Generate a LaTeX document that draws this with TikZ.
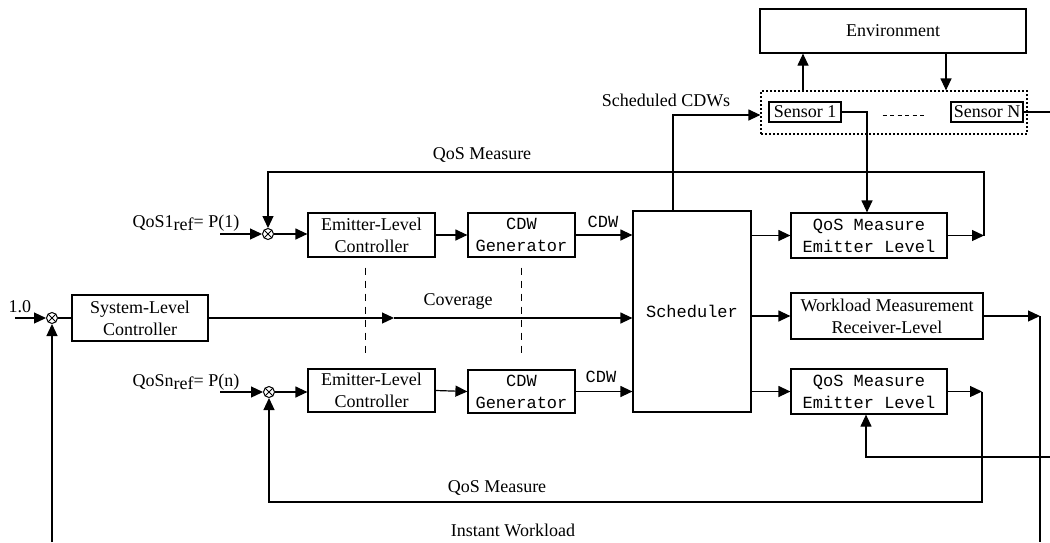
\documentclass[tikz,border=0pt]{standalone}
\usepackage{fontspec}
\setmainfont{Liberation Serif}
\setmonofont{Liberation Mono}
\usetikzlibrary{arrows.meta,calc}
\begin{document}
\begin{tikzpicture}[x=1pt,y=-1pt,line width=1.2pt,
  every node/.style={font=\fontsize{18}{22}\selectfont, inner sep=0pt},
  blk/.style={draw, align=center},
  mono/.style={font=\ttfamily\fontsize{17}{22}\selectfont},
  arr/.style={-{Triangle[length=12pt,width=11pt]}},
  sumj/.style={draw, circle, minimum size=11pt, line width=1pt,
    path picture={\draw[line width=0.8pt]
      (path picture bounding box.north west) -- (path picture bounding box.south east)
      (path picture bounding box.north east) -- (path picture bounding box.south west);}},
  sep/.style={line width=1pt, dash pattern=on 7pt off 6pt}]

\useasboundingbox (0,0) rectangle (1050,542);
\fill[white] (0,0) rectangle (1050,542);

% environment and sensors
\node[blk, minimum width=266, minimum height=44] (env) at (893,31) {Environment};
\node[draw, dash pattern=on 2pt off 2pt, line width=1.2pt, minimum width=266, minimum height=43] (sens) at (894,112.5) {};
\node[blk, minimum width=72, minimum height=20] (s1) at (805,112) {Sensor 1};
\node[blk, minimum width=72, minimum height=20] (sN) at (987,112) {Sensor N};
\draw[line width=1pt, dash pattern=on 4pt off 3.5pt] ([xshift=41pt,yshift=-3pt]s1.east) -- ([xshift=-24pt,yshift=-3pt]sN.west);

% summing junctions
\node[sumj] (j1) at (268,234) {};
\node[sumj] (j0) at (52,318) {};
\node[sumj] (jn) at (269,392) {};

% blocks
\node[blk, minimum width=127, minimum height=44] (emc1) at (371.5,235) {Emitter-Level\\Controller};
\node[blk, mono, minimum width=107, minimum height=44] (gen1) at (521.5,235) {CDW\\Generator};
\node[blk, mono, minimum width=118, minimum height=201] (sched) at (692,311.5) {Scheduler};
\node[blk, mono, minimum width=156, minimum height=45] (qos1) at (869,235.5) {QoS Measure\\Emitter Level};
\node[blk, minimum width=136, minimum height=46] (sys) at (140,318) {System-Level\\Controller};
\node[blk, minimum width=192, minimum height=46] (wl) at (887,316) {Workload Measurement\\Receiver-Level};
\node[blk, minimum width=127, minimum height=43] (emc2) at (371.5,390.5) {Emitter-Level\\Controller};
\node[blk, mono, minimum width=107, minimum height=43] (gen2) at (521.5,391.5) {CDW\\Generator};
\node[blk, mono, minimum width=156, minimum height=45] (qos2) at (869,391.5) {QoS Measure\\Emitter Level};

% labels
\node at (666,100) {Scheduled CDWs};
\node at (482,155) {QoS Measure};
\node[anchor=base] at (186,227) {QoS1\raisebox{-0.45ex}{ref}= P(1)};
\node[anchor=base] at (186,386) {QoSn\raisebox{-0.45ex}{ref}= P(n)};
\node[anchor=base] at (20,312) {1.0};
\node[mono] at (603,222) {CDW};
\node[mono] at (601,377) {CDW};
\node at (458,301) {Coverage};
\node at (497,488) {QoS Measure};
\node at (513,530) {Instant Workload};

% free ends and bends
\coordinate (in1) at (220,234);
\coordinate (in0) at (15,318);
\coordinate (inn) at (220,392);
\coordinate (f1) at (984,235.5);
\coordinate (f1t) at (984,172);
\coordinate (f2) at (982,391.5);
\coordinate (f2b) at (982,502);
\coordinate (cov) at (394,318);
\coordinate (wlo) at (1040,316);
\coordinate (wlb) at (1040,542);
\coordinate (wsb) at (52,542);
\coordinate (sNo) at (1050,112);
\coordinate (ext) at (1050,457);
\coordinate (sct) at (673,115);

% sensor connections
\draw[arr] ([xshift=-91pt]sens.north) -- ([xshift=-90pt]env.south);
\draw[arr] ([xshift=53pt]env.south) -- ([xshift=52pt]sens.north);
\draw[arr] (sched.north -| sct) |- (sens.west |- sct);
\draw[arr] (s1.east) -| ([xshift=-2pt]qos1.north);
\draw (sN.east) -- (sNo);

% emitter loop 1
\draw[arr] (in1) -- (j1.west);
\draw[arr] (j1.east) -- (j1.east -| emc1.west);
\draw[arr] (emc1.east) -- (gen1.west);
\draw[arr] (gen1.east) -- (gen1.east -| sched.west);
\draw[arr] (sched.east |- qos1.west) -- (qos1.west);
\draw[arr] (qos1.east) -- (f1);
\draw[arr] (f1) -- (f1t) -| (j1.north);

% system loop
\draw[arr] (in0) -- (j0.west);
\draw (j0.east) -- (sys.west);
\draw[arr] (sys.east) -- (cov);
\draw[arr] (cov) -- (cov -| sched.west);
\draw[arr] (sched.east |- wl.west) -- (wl.west);
\draw[arr] (wl.east) -- (wlo);
\draw (wlo) -- (wlb);
\draw[arr] (wsb) -- (j0.south);

% emitter loop n
\draw[arr] (inn) -- (jn.west);
\draw[arr] (jn.east) -- (jn.east -| emc2.west);
\draw[arr] (emc2.east) -- (gen2.west);
\draw[arr] (gen2.east) -- (gen2.east -| sched.west);
\draw[arr] (sched.east |- qos2.west) -- (qos2.west);
\draw[arr] (qos2.east) -- (f2);
\draw[arr] (f2) -- (f2b) -| (jn.south);
\draw[arr] (ext) -| ([xshift=-3pt]qos2.south);

% links between the two emitter levels
\draw[sep] ([xshift=-6.5pt,yshift=-10pt]emc1.south) -- ([xshift=-6.5pt,yshift=11pt]emc2.north);
\draw[sep] ([yshift=-10pt]gen1.south) -- ([yshift=12pt]gen2.north);
\end{tikzpicture}
\end{document}
